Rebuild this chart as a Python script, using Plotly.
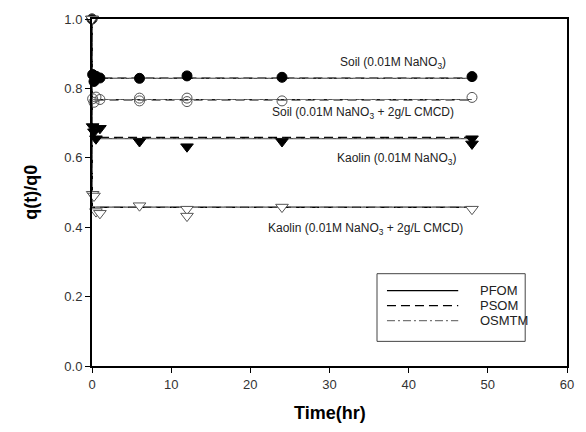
import plotly.graph_objects as go

soil_t = [0, 0.08, 0.25, 0.5, 1, 6, 12, 24, 48]
soil_q = [1.0, 0.84, 0.82, 0.835, 0.83, 0.829, 0.836, 0.832, 0.834]

soilc_t = [0, 0.08, 0.25, 0.5, 1, 6, 6, 12, 12, 24, 48]
soilc_q = [1.0, 0.77, 0.76, 0.775, 0.768, 0.772, 0.764, 0.772, 0.762, 0.764, 0.774]

kao_t = [0, 0.08, 0.25, 0.5, 1, 6, 12, 24, 48, 48]
kao_q = [1.0, 0.69, 0.675, 0.655, 0.685, 0.647, 0.632, 0.647, 0.655, 0.64]

kaoc_t = [0, 0.08, 0.25, 0.5, 1, 6, 12, 12, 24, 48]
kaoc_q = [1.0, 0.495, 0.49, 0.445, 0.44, 0.462, 0.452, 0.432, 0.458, 0.452]

# ---- model curves (PFOM, PSOM, OSMTM) ----
model_t = [0, 0.05, 48]
pfom = {"soil": [1.0, 0.829, 0.829], "soilc": [1.0, 0.768, 0.768],
        "kao": [1.0, 0.655, 0.655], "kaoc": [1.0, 0.458, 0.458]}
psom = {"soil": [1.0, 0.830, 0.830], "soilc": [1.0, 0.767, 0.767],
        "kao": [1.0, 0.659, 0.659], "kaoc": [1.0, 0.457, 0.457]}
osmtm = {"soil": [1.0, 0.829, 0.829], "soilc": [1.0, 0.768, 0.768],
         "kao": [1.0, 0.656, 0.656], "kaoc": [1.0, 0.458, 0.458]}

legend_names = ["PFOM", "PSOM", "OSMTM"]

FONT = "Liberation Sans, Arial"
DASH_PSOM = "9px,5px"
DASH_OSM = "8px,3px,2px,3px"

fig = go.Figure()

for key in ["soil", "soilc", "kao", "kaoc"]:
    fig.add_trace(go.Scatter(x=model_t, y=pfom[key], mode="lines",
                             line=dict(color="#555555", width=1.2, dash="solid"),
                             showlegend=False, cliponaxis=False))
    fig.add_trace(go.Scatter(x=model_t, y=psom[key], mode="lines",
                             line=dict(color="black", width=1.2, dash=DASH_PSOM),
                             showlegend=False, cliponaxis=False))
    fig.add_trace(go.Scatter(x=model_t, y=osmtm[key], mode="lines",
                             line=dict(color="#777777", width=1, dash=DASH_OSM),
                             showlegend=False, cliponaxis=False))

fig.add_trace(go.Scatter(x=soil_t, y=soil_q, mode="markers", cliponaxis=False,
                         marker=dict(symbol="circle", size=10, color="black",
                                     line=dict(color="black", width=1)),
                         showlegend=False))
fig.add_trace(go.Scatter(x=soilc_t, y=soilc_q, mode="markers", cliponaxis=False,
                         marker=dict(symbol="circle-open", size=10, color="#555555",
                                     line=dict(width=1)),
                         showlegend=False))
fig.add_trace(go.Scatter(x=kao_t, y=kao_q, mode="markers", cliponaxis=False,
                         marker=dict(symbol="triangle-down", size=11, color="black",
                                     line=dict(color="black", width=1)),
                         showlegend=False))
fig.add_trace(go.Scatter(x=kaoc_t, y=kaoc_q, mode="markers", cliponaxis=False,
                         marker=dict(symbol="triangle-down", size=11, color="white",
                                     line=dict(color="#555555", width=1)),
                         showlegend=False))

labels = [
    (38, 0.872, "Soil (0.01M NaNO<sub>3</sub>)"),
    (34.2, 0.728, "Soil (0.01M NaNO<sub>3</sub> + 2g/L CMCD)"),
    (38.5, 0.597, "Kaolin (0.01M NaNO<sub>3</sub>)"),
    (34.6, 0.394, "Kaolin (0.01M NaNO<sub>3</sub> + 2g/L CMCD)"),
]
for x, y, t in labels:
    fig.add_annotation(x=x, y=y, text=t, showarrow=False,
                       font=dict(family=FONT, size=12, color="#222"))

# manual legend box (paper coordinates)
fig.add_shape(type="rect", xref="paper", yref="paper", x0=0.600, x1=0.912,
              y0=0.071, y1=0.266, line=dict(color="#444", width=1),
              fillcolor="white", layer="above")
leg_y = [0.217, 0.174, 0.131]
leg_dash = ["solid", DASH_PSOM, DASH_OSM]
leg_col = ["black", "black", "#777777"]
for name, y, d, c in zip(legend_names, leg_y, leg_dash, leg_col):
    fig.add_shape(type="line", xref="paper", yref="paper", x0=0.621, x1=0.771,
                  y0=y, y1=y, line=dict(color=c, width=1.2, dash=d), layer="above")
    fig.add_annotation(x=0.813, y=y, xref="paper", yref="paper", text=name,
                       showarrow=False, xanchor="left", yanchor="middle",
                       font=dict(family=FONT, size=13, color="#222"))

fig.add_annotation(x=-0.13, y=0.5, xref="paper", yref="paper", text="<b>q(t)/q0</b>",
                   textangle=-90, showarrow=False, xanchor="center", yanchor="middle",
                   font=dict(family=FONT, size=18, color="black"))
fig.add_annotation(x=0.5, y=-0.135, xref="paper", yref="paper", text="<b>Time(hr)</b>",
                   showarrow=False, xanchor="center", yanchor="middle",
                   font=dict(family=FONT, size=18, color="black"))

axis_common = dict(showgrid=False, zeroline=False, showline=True, linecolor="black",
                   linewidth=2, mirror=True, ticks="outside", ticklen=5, tickwidth=1,
                   tickcolor="black",
                   tickfont=dict(family=FONT, size=13, color="#333"))

fig.update_layout(
    width=586, height=432,
    margin=dict(l=92, r=17, t=16, b=66),
    paper_bgcolor="white", plot_bgcolor="white",
    xaxis=dict(range=[0, 60], tickvals=[0, 10, 20, 30, 40, 50, 60], **axis_common),
    yaxis=dict(range=[0, 1.0], tickvals=[0, 0.2, 0.4, 0.6, 0.8, 1.0],
               tickformat=".1f", **axis_common),
    showlegend=False,
)

fig.write_html("out.html")
